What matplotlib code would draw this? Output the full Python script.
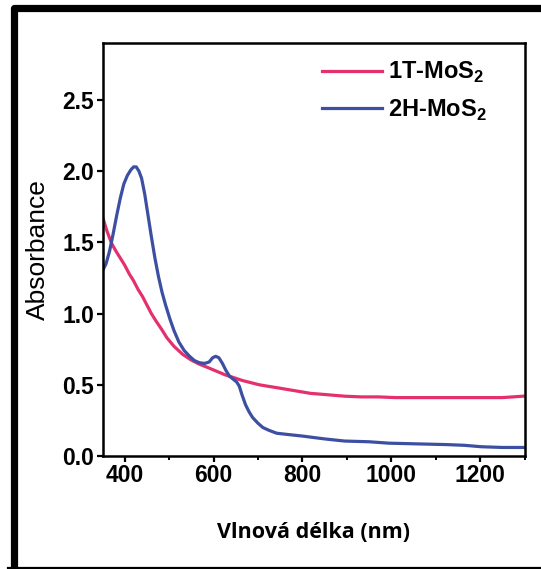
import matplotlib
matplotlib.use("Agg")
import matplotlib.pyplot as plt
from matplotlib.lines import Line2D
from matplotlib.ticker import MultipleLocator

# values
wl_1t = [350, 355, 360, 366, 371, 380, 390, 400, 410, 420, 430, 440, 450, 460,
         470, 483, 495, 511, 530, 549, 568, 588, 607, 626, 646, 665, 684, 703,
         722, 742, 780, 818, 857, 895, 933, 972, 1010, 1049, 1088, 1126, 1165,
         1203, 1250, 1297]
abs_1t = [1.68, 1.63, 1.58, 1.53, 1.49, 1.44, 1.39, 1.34, 1.28, 1.23, 1.17,
          1.12, 1.06, 1.00, 0.95, 0.89, 0.83, 0.77, 0.715, 0.675, 0.645, 0.62,
          0.595, 0.57, 0.55, 0.53, 0.515, 0.50, 0.49, 0.48, 0.46, 0.44, 0.43,
          0.42, 0.415, 0.415, 0.41, 0.41, 0.41, 0.41, 0.41, 0.41, 0.41, 0.42]

wl_2h = [350, 358, 366, 374, 382, 390, 398, 406, 414, 420, 426, 432, 438, 445,
         452, 460, 468, 476, 484, 492, 502, 511, 522, 534, 546, 557, 568, 580,
         590, 598, 605, 612, 620, 628, 636, 644, 652, 658, 664, 672, 680, 688,
         700, 711, 725, 742, 770, 800, 850, 895, 950, 995, 1060, 1126, 1165,
         1203, 1250, 1297]
abs_2h = [1.30, 1.35, 1.44, 1.56, 1.69, 1.81, 1.91, 1.97, 2.01, 2.03, 2.03,
          2.00, 1.95, 1.84, 1.70, 1.54, 1.39, 1.26, 1.15, 1.06, 0.96, 0.88,
          0.80, 0.74, 0.70, 0.67, 0.655, 0.65, 0.66, 0.69, 0.70, 0.69, 0.65,
          0.60, 0.56, 0.54, 0.52, 0.49, 0.43, 0.36, 0.31, 0.27, 0.23, 0.20,
          0.18, 0.16, 0.15, 0.14, 0.12, 0.105, 0.10, 0.09, 0.085, 0.08, 0.075,
          0.065, 0.06, 0.06]

labels = ["1T-MoS$_\\mathbf{2}$", "2H-MoS$_\\mathbf{2}$"]
colors = ["#E5306F", "#3C4FA2"]

plt.rcParams['font.family'] = ['Liberation Sans', 'DejaVu Sans']
plt.rcParams['mathtext.fontset'] = 'custom'
plt.rcParams['mathtext.rm'] = 'Liberation Sans'
plt.rcParams['mathtext.bf'] = 'Liberation Sans:bold'

W, H = 541, 569
fig = plt.figure(figsize=(W / 100, H / 100), dpi=100)
ax = fig.add_axes([102.5 / W, 1 - 456 / H, 422 / W, 413 / H])

ax.plot(wl_1t, abs_1t, color=colors[0], lw=2.3, label=labels[0])
ax.plot(wl_2h, abs_2h, color=colors[1], lw=2.3, label=labels[1])

ax.set_xlim(350, 1300)
ax.set_ylim(0, 2.9)
ax.xaxis.set_major_locator(MultipleLocator(200))
ax.xaxis.set_minor_locator(MultipleLocator(100))
ax.yaxis.set_major_locator(MultipleLocator(0.5))
ax.yaxis.set_major_formatter(plt.FormatStrFormatter('%.1f'))

for s in ax.spines.values():
    s.set_linewidth(1.8)
ax.tick_params(which='major', direction='out', length=4, width=1.6, pad=2,
               labelsize=16.5)
ax.tick_params(which='minor', direction='out', length=3, width=1.4)
for t in ax.get_xticklabels() + ax.get_yticklabels():
    t.set_fontweight('bold')

ax.set_ylabel('Absorbance', fontsize=19, labelpad=9)
ax.set_xlabel('Vlnová délka (nm)', fontsize=15.5, fontweight='bold',
              family='Open Sans', labelpad=25)

leg = ax.legend(loc='upper left', bbox_to_anchor=(0.52, 0.959), frameon=False,
                borderaxespad=0, borderpad=0, handlelength=2.54,
                handletextpad=0.25, labelspacing=0.53,
                prop={'size': 17, 'weight': 'bold'})

# black frame around the picture (right side cut off in the original)
fig.add_artist(Line2D([13.5 / W, 13.5 / W, 1.01], [-0.01, 1 - 7.5 / H, 1 - 7.5 / H],
                      transform=fig.transFigure, color='black', lw=5.2,
                      solid_joinstyle='round'))
fig.add_artist(Line2D([10 / W, 1.01], [1 - 569.5 / H, 1 - 569.5 / H],
                      transform=fig.transFigure, color='black', lw=5.2))

fig.savefig('out.png', dpi=100)
